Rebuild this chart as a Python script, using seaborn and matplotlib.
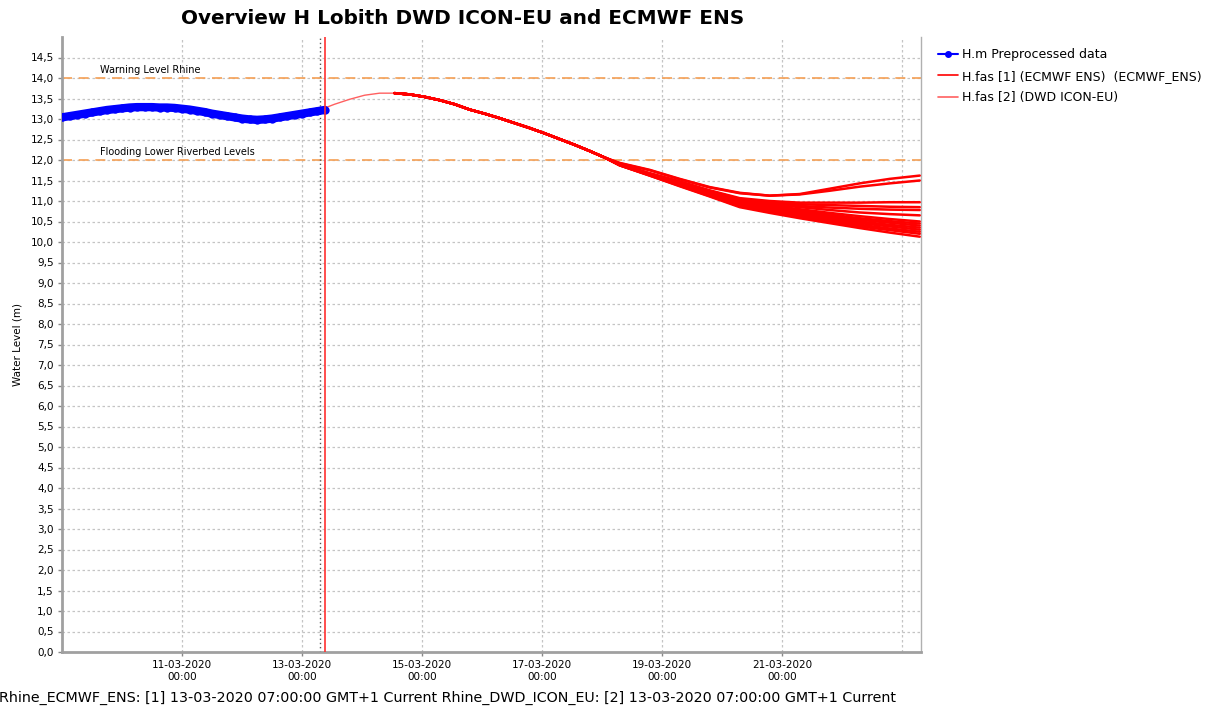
import matplotlib
matplotlib.use("Agg")
import matplotlib.pyplot as plt
import matplotlib.dates as mdates
from matplotlib.lines import Line2D
from matplotlib.ticker import FuncFormatter
import seaborn as sns
import pandas as pd

# observed water level, every 3 hours from 09-03-2020 00:00
obs_start = "2020-03-09 00:00"
obs_level = [13.04, 13.07, 13.10, 13.13, 13.16, 13.19, 13.22, 13.24,
             13.26, 13.28, 13.29, 13.29, 13.29, 13.28, 13.28, 13.27,
             13.25, 13.23, 13.20, 13.17, 13.13, 13.10, 13.07, 13.04,
             13.01, 12.99, 12.98, 12.99, 13.01, 13.04, 13.07, 13.10,
             13.13, 13.16, 13.19, 13.22]

# common forecast path, every 6 hours from 13-03-2020 07:00
fc_start = "2020-03-13 07:00"
fc_common = [13.22, 13.36, 13.48, 13.58, 13.63, 13.63, 13.60, 13.54,
             13.46, 13.36, 13.23, 13.13, 13.02, 12.90, 12.78, 12.65,
             12.51, 12.37, 12.22, 12.06]

# ECMWF ENS members after they split, every 12 hours from 18-03-2020 07:00
tail_start = "2020-03-18 07:00"
ens_tails = [
    [11.93, 11.76, 11.54, 11.34, 11.20, 11.13, 11.17, 11.30, 11.43, 11.54, 11.62],
    [11.92, 11.75, 11.53, 11.33, 11.19, 11.13, 11.16, 11.25, 11.35, 11.43, 11.50],
    [11.90, 11.68, 11.48, 11.26, 11.07, 11.00, 10.96, 10.96, 10.96, 10.97, 10.97],
    [11.90, 11.67, 11.47, 11.25, 11.05, 10.97, 10.92, 10.90, 10.88, 10.86, 10.85],
    [11.89, 11.66, 11.45, 11.23, 11.03, 10.95, 10.88, 10.84, 10.81, 10.79, 10.78],
    [11.89, 11.66, 11.44, 11.22, 11.01, 10.92, 10.85, 10.78, 10.72, 10.68, 10.65],
    [11.89, 11.65, 11.43, 11.21, 10.99, 10.89, 10.80, 10.71, 10.63, 10.56, 10.50],
    [11.88, 11.65, 11.42, 11.20, 10.97, 10.86, 10.76, 10.67, 10.58, 10.51, 10.45],
    [11.88, 11.64, 11.41, 11.18, 10.95, 10.83, 10.72, 10.63, 10.54, 10.47, 10.40],
    [11.88, 11.64, 11.40, 11.17, 10.93, 10.81, 10.70, 10.60, 10.50, 10.42, 10.35],
    [11.88, 11.63, 11.39, 11.15, 10.91, 10.79, 10.67, 10.56, 10.46, 10.38, 10.30],
    [11.87, 11.63, 11.38, 11.14, 10.89, 10.76, 10.64, 10.53, 10.42, 10.33, 10.25],
    [11.87, 11.62, 11.37, 11.12, 10.87, 10.74, 10.61, 10.49, 10.38, 10.29, 10.20],
    [11.87, 11.62, 11.36, 11.11, 10.85, 10.71, 10.58, 10.46, 10.34, 10.23, 10.13],
]
ens_first = 5          # ECMWF band shows from 14-03 13:00 on
dwd_last = 11.90       # DWD ICON-EU ends 18-03-2020 07:00

warning_level = 14.0
flooding_level = 12.0
t0 = "2020-03-13 07:00"
now = "2020-03-13 09:00"
xticks = ["2020-03-11", "2020-03-13", "2020-03-15", "2020-03-17", "2020-03-19", "2020-03-21"]
yticks = [i / 2 for i in range(30)]
title = "Overview H Lobith DWD ICON-EU and ECMWF ENS"
footer = ("Rhine_ECMWF_ENS: [1] 13-03-2020 07:00:00 GMT+1 Current "
          "Rhine_DWD_ICON_EU: [2] 13-03-2020 07:00:00 GMT+1 Current")

# tables
obs = pd.DataFrame({"time": pd.date_range(obs_start, periods=len(obs_level), freq="3h"),
                    "level": obs_level})
common_t = pd.date_range(fc_start, periods=len(fc_common), freq="6h")
tail_t = pd.date_range(tail_start, periods=len(ens_tails[0]), freq="12h")
rows = []
for m, tail in enumerate(ens_tails):
    for t, v in zip(common_t[ens_first:], fc_common[ens_first:]):
        rows.append((m, t, v))
    for t, v in zip(tail_t, tail):
        rows.append((m, t, v))
ens = pd.DataFrame(rows, columns=["member", "time", "level"])
dwd = pd.DataFrame({"time": list(common_t) + [tail_t[0]],
                    "level": fc_common + [dwd_last]})

sns.set_style("white")
plt.rcParams["font.family"] = ["DejaVu Sans"]
plt.rcParams["text.color"] = "black"
plt.rcParams["xtick.color"] = "black"
plt.rcParams["ytick.color"] = "black"
plt.rcParams["axes.labelcolor"] = "black"

fig = plt.figure(figsize=(12.1, 7.08), dpi=100)
ax = fig.add_axes([62 / 1210, 1 - 652 / 708, (921 - 62) / 1210, (652 - 37) / 708])

grid_kw = dict(color="#c4c4c4", linestyle=(0, (2, 2)), linewidth=0.9, zorder=0)
for y in yticks[1:]:
    ax.axhline(y, **grid_kw)
for d in xticks + ["2020-03-23"]:
    ax.axvline(pd.Timestamp(d), **grid_kw)

for lvl in (warning_level, flooding_level):
    ax.axhline(lvl, color="#f5a055", linestyle=(0, (6, 4)), linewidth=1.2, zorder=1)
ax.text(pd.Timestamp("2020-03-09 15:00"), warning_level + 0.08, "Warning Level Rhine",
        fontsize=7, va="bottom")
ax.text(pd.Timestamp("2020-03-09 15:00"), flooding_level + 0.08, "Flooding Lower Riverbed Levels",
        fontsize=7, va="bottom")

sns.lineplot(data=dwd, x="time", y="level", color="#ff6060", linewidth=1.0, ax=ax, zorder=3)
sns.lineplot(data=ens, x="time", y="level", units="member", estimator=None,
             color="#ff0000", linewidth=1.8, ax=ax, zorder=4)
sns.lineplot(data=obs, x="time", y="level", color="#0000ff", linewidth=6,
             marker="o", markersize=6, markeredgewidth=0, ax=ax, zorder=5)

ax.axvline(pd.Timestamp(t0), color="#555555", linestyle=(0, (1, 2)), linewidth=1.0, zorder=2)
ax.axvline(pd.Timestamp(now), color="#ff3030", linewidth=1.2, zorder=6)

ax.set_xlim(pd.Timestamp("2020-03-09 00:00"), pd.Timestamp("2020-03-23 07:30"))
ax.set_ylim(0, 15)
ax.set_yticks(yticks)
ax.yaxis.set_major_formatter(FuncFormatter(lambda v, p: f"{v:.1f}".replace(".", ",")))
ax.set_xticks([pd.Timestamp(d) for d in xticks])
ax.xaxis.set_major_formatter(mdates.DateFormatter("%d-%m-%Y\n%H:%M"))
ax.tick_params(axis="both", labelsize=7.5, length=3, width=1, color="#888888",
               bottom=True, left=True, pad=3)
ax.set_xlabel("")
ax.set_ylabel("Water Level (m)", fontsize=7.5, labelpad=6)

for side in ("left", "bottom"):
    ax.spines[side].set_color("#a0a0a0")
    ax.spines[side].set_linewidth(2)
ax.spines["right"].set_color("#b0b0b0")
ax.spines["right"].set_linewidth(1)
ax.spines["top"].set_visible(False)

handles = [
    Line2D([], [], color="#0000ff", marker="o", markersize=4, linewidth=1.5),
    Line2D([], [], color="#ff0000", linewidth=1.2),
    Line2D([], [], color="#ff6060", linewidth=1.2),
]
labels = ["H.m Preprocessed data", "H.fas [1] (ECMWF ENS)  (ECMWF_ENS)", "H.fas [2] (DWD ICON-EU)"]
fig.legend(handles, labels, loc="upper left", bbox_to_anchor=(933 / 1210, 1 - 43 / 708),
           frameon=False, fontsize=9, handlelength=1.6, handletextpad=0.3,
           labelspacing=0.7, borderaxespad=0)

fig.text(463 / 1210, 1 - 19 / 708, title, ha="center", va="center",
         fontsize=14.4, fontweight="bold")
fig.text(-1 / 1210, 1 - 698 / 708, footer, ha="left", va="center", fontsize=10.3)

fig.savefig("out.png", dpi=100)
